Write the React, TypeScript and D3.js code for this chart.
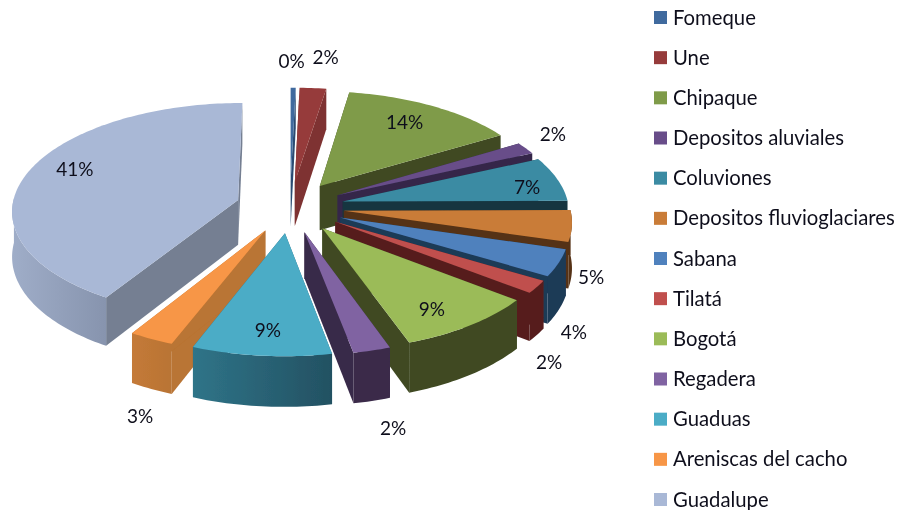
import React from "react";
import * as d3 from "d3";

const categories = ["Fomeque","Une","Chipaque","Depositos aluviales","Coluviones","Depositos fluvioglaciares","Sabana","Tilatá","Bogotá","Regadera","Guaduas","Areniscas del cacho","Guadalupe"];
const values = [0.4,2.1,13.9,1.8,6.7,4.7,4,1.9,9.1,2.4,8.9,2.9,41.2];
const percentLabels = ["0%","2%","14%","2%","7%","5%","4%","2%","9%","2%","9%","3%","41%"];

const topColors = ["#3f6a9e","#963b3a","#7f9b48","#674e89","#3b8ba3","#c97c37","#4f81bd","#c0504d","#9bbb59","#8064a2","#4bacc6","#f79646","#a9b8d6"];
const radialWallColors = ["#2b4c72","#7e3230","#3f4a22","#35284a","#17353f","#553216","#1f3a57","#571f1f","#3f4a22","#39294a","#2b6a7f","#b97434","#747f92"];
const outerLeftColors = ["#2b4c72","#7e3230","#3f4a22","#35284a","#17353f","#553216","#1f3a57","#571f1f","#3f4a22","#3a2b4a","#2f7488","#c47a38","#9fadc8"];
const outerRightColors = ["#2b4c72","#7e3230","#3f4a22","#35284a","#17353f","#553216","#1f3a57","#571f1f","#3f4a22","#3a2b4a","#235162","#b97434","#8794ae"];

// label placement on the ground plane: distance from centre (in radii), compass angle (deg)
const labelRadii = [1.56,1.62,1.016,1.44,1.084,1.4,1.55,1.63,1.05,1.78,1.04,1.75,1.05];
const labelAngles = [0.3,6.4,32.5,59.4,79.8,116,132.8,141.5,146.6,167.5,184.9,198.8,290.5];

const W = 899, H = 510;
const CX = 290, CY = 207, RX = 226, RY = 107, PERSP = 0.09, DEPTH = 45, EXPLODE = 0.24;

function project(gx: number, gy: number, z = 0): [number, number] {
  const s = 1 / (1 + PERSP * gy);
  return [CX + gx * RX * s, CY - gy * RY * s + z * s];
}

const pieGen = d3.pie<number>().sort(null).value((d) => d);
const arcs = pieGen(values);

const line = d3.line<[number, number]>().x((d) => d[0]).y((d) => d[1]);

const legendY = d3.scalePoint<string>().domain(categories).range([17.5, 499.5]);

function slicePaths(a0: number, a1: number) {
  const m = (a0 + a1) / 2;
  const ox = EXPLODE * Math.sin(m), oy = EXPLODE * Math.cos(m);
  const ground = (t: number): [number, number] => [ox + Math.sin(t), oy + Math.cos(t)];
  const steps = Math.max(2, Math.ceil((a1 - a0) / 0.02));
  const ts = d3.range(steps + 1).map((i) => a0 + ((a1 - a0) * i) / steps);
  const rim = ts.map((t) => ground(t));
  const tip: [number, number] = [ox, oy];
  const top = line([project(tip[0], tip[1]), ...rim.map((g) => project(g[0], g[1]))]) + "Z";
  const radialWall = (g: [number, number]) =>
    line([project(tip[0], tip[1]), project(g[0], g[1]), project(g[0], g[1], DEPTH), project(tip[0], tip[1], DEPTH)]) + "Z";
  const frontTs = ts.filter((t) => Math.cos(t) < 0.02);
  const frontRim = frontTs.map((t) => ground(t));
  const outer = frontRim.length > 1
    ? line([
        ...frontRim.map((g) => project(g[0], g[1])),
        ...frontRim.slice().reverse().map((g) => project(g[0], g[1], DEPTH)),
      ]) + "Z"
    : null;
  return { top, wallA: radialWall(ground(a0)), wallB: radialWall(ground(a1)), outer, m };
}

const drawOrder = d3.range(values.length).sort((p, q) => {
  const dist = (i: number) => {
    const deg = (((arcs[i].startAngle + arcs[i].endAngle) / 2) * 180) / Math.PI;
    return Math.abs(deg - 180);
  };
  return dist(q) - dist(p);
});

export default function App() {
  const font = "Lato, Carlito, 'Open Sans', sans-serif";
  return (
    <svg width={W} height={H} viewBox={`0 0 ${W} ${H}`} style={{ position: "absolute", left: 0, top: 0, background: "#fff" }}>
      <defs>
        {categories.map((c, i) => (
          <linearGradient key={c} id={`outer${i}`} x1="0" x2="1" y1="0" y2="0">
            <stop offset="0" stopColor={outerLeftColors[i]} />
            <stop offset="1" stopColor={outerRightColors[i]} />
          </linearGradient>
        ))}
        <filter id="soft" x="0" y="0" width="100%" height="100%" filterUnits="userSpaceOnUse" primitiveUnits="userSpaceOnUse">
          <feGaussianBlur stdDeviation="0.45" />
        </filter>
      </defs>
      <g filter="url(#soft)">
        <rect x={0} y={0} width={W} height={H} fill="#fff" />
        <g>
          {drawOrder.map((i) => {
            const p = slicePaths(arcs[i].startAngle, arcs[i].endAngle);
            return (
              <g key={categories[i]}>
                <path d={p.wallA} fill={radialWallColors[i]} />
                <path d={p.wallB} fill={radialWallColors[i]} />
                {p.outer && <path d={p.outer} fill={`url(#outer${i})`} />}
                <path d={p.top} fill={topColors[i]} />
              </g>
            );
          })}
        </g>
        <g fontFamily={font} fontSize={19} fill="#10101c" textAnchor="middle" dominantBaseline="central">
          {percentLabels.map((t, i) => {
            const a = (labelAngles[i] * Math.PI) / 180;
            const [x, y] = project(labelRadii[i] * Math.sin(a), labelRadii[i] * Math.cos(a));
            return <text key={i} x={x} y={y}>{t}</text>;
          })}
        </g>
        <g fontFamily={font} fontSize={20.3} fill="#10101c" dominantBaseline="central">
          {categories.map((c, i) => {
            const y = legendY(c)!;
            return (
              <g key={c}>
                <rect x={654} y={y - 6.5} width={13} height={13} fill={topColors[i]} />
                <text x={673} y={y - 1}>{c}</text>
              </g>
            );
          })}
        </g>
      </g>
    </svg>
  );
}
